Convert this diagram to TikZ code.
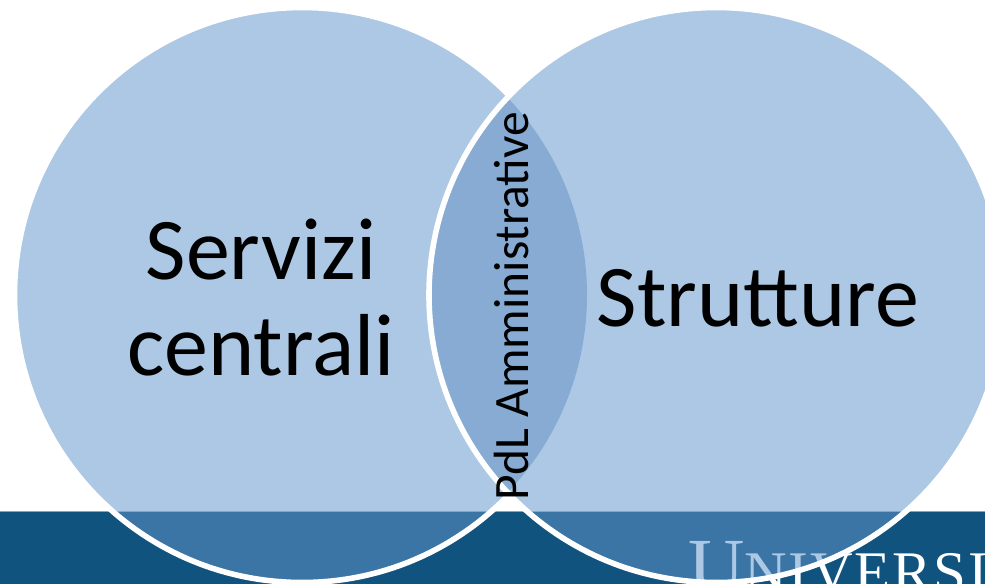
\documentclass[tikz,border=0pt]{standalone}
\usepackage{fontspec}
\setmainfont{Carlito}
\newfontfamily\logofont[LetterSpace=3]{Liberation Serif}
\definecolor{lightb}{HTML}{ADC8E4}
\definecolor{lensb}{HTML}{87ABD3}
\definecolor{bandb}{HTML}{10537F}
\definecolor{midb}{HTML}{3A75A6}
\definecolor{ruleb}{HTML}{7EA6CE}
\tikzset{
  x=1pt,y=-1pt,
  outline/.style={draw=white,line width=5.6pt},
  bigtext/.style={font=\fontsize{88}{96}\selectfont,align=center,text=black,inner sep=0pt},
  sidetext/.style={font=\fontsize{49.5}{50}\selectfont,rotate=90,text=black,inner sep=0pt},
}
\newcommand{\logotext}[1]{\node[anchor=base west,inner sep=0pt,text=#1] (logo) at (688,592)
  {\logofont\fontsize{78}{78}\selectfont U\fontsize{59}{59}\selectfont NIVERSI};}
\begin{document}
\begin{tikzpicture}
\useasboundingbox (0,0) rectangle (985,584);
\clip (0,0) rectangle (985,584);
\coordinate (L) at (302,295);
\coordinate (R) at (716.5,295);
% band
\fill[bandb] (0,511) rectangle (985,584);
\logotext{white}
\draw[ruleb,line width=1.5pt] (0,511.7) -- (985,511.7);
% left circle
\fill[lightb] (L) circle (287.5);
\begin{scope}
  \clip (L) circle (287.5);
  \fill[midb] (0,511) rectangle (985,584);
  \draw[ruleb,line width=1.5pt] (0,511.7) -- (985,511.7);
  \logotext{lightb}
\end{scope}
\draw[outline] (L) circle (287.5);
% right circle
\fill[lightb] (R) circle (287.5);
\begin{scope}
  \clip (R) circle (287.5);
  \fill[midb] (0,511) rectangle (985,584);
  \draw[ruleb,line width=1.5pt] (0,511.7) -- (985,511.7);
  \logotext{lightb}
\end{scope}
% lens
\begin{scope}
  \clip (L) circle (285);
  \fill[lensb] (R) circle (287.5);
\end{scope}
\draw[outline] (R) circle (287.5);
% texts
\node[bigtext,anchor=base] (servizi) at (261,279) {Servizi};
\node[bigtext,anchor=base] (centrali) at (261,375) {centrali};
\node[bigtext,anchor=base] (strutture) at (758,326) {Strutture};
\node[sidetext,anchor=base] (pdl) at (528,306) {PdL Amministrative};
\end{tikzpicture}
\end{document}
